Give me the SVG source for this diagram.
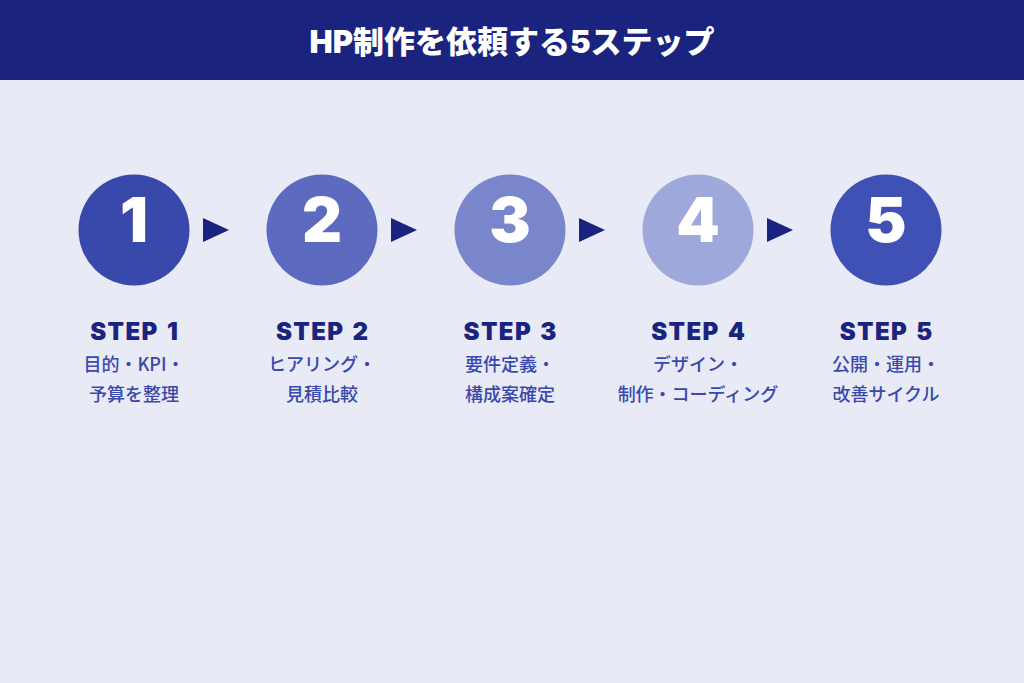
<svg xmlns="http://www.w3.org/2000/svg" width="1024" height="683" viewBox="0 0 1024 683">
<defs>
<style>
.num{font-family:Inter,"Liberation Sans",sans-serif;font-weight:900;font-size:62px;fill:#ffffff;text-anchor:middle}
.step{font-family:Inter,"Liberation Sans",sans-serif;font-weight:900;font-size:24px;letter-spacing:1.4px;word-spacing:2px;fill:#1a237e;text-anchor:middle}
.desc{font-family:"Noto Sans CJK JP",sans-serif;font-weight:500;font-size:18px;fill:#3949ab;text-anchor:middle}
.title{font-family:Inter,"Noto Sans CJK JP",sans-serif;font-weight:900;font-size:31px;fill:#ffffff;text-anchor:middle}
.arrow{fill:#1a237e}
</style>
</defs>
<rect width="1024" height="683" fill="#e8eaf6"/>
<g id="header">
<rect width="1024" height="80" fill="#1a237e"/>
<text class="title" x="512" y="53">HP制作を依頼する5ステップ</text>
</g>
<g id="connectors">
<polygon class="arrow" points="203,218 229,230 203,242"/>
<polygon class="arrow" points="391,218 417,230 391,242"/>
<polygon class="arrow" points="579,218 605,230 579,242"/>
<polygon class="arrow" points="767,218 793,230 767,242"/>
</g>
<g id="step1">
<circle cx="134" cy="230" r="55.5" fill="#3949ab"/>
<text class="num" x="134" y="242">1</text>
<text class="step" x="134.7" y="340">STEP 1</text>
<text class="desc" x="134" y="371">目的・KPI・</text>
<text class="desc" x="134" y="401">予算を整理</text>
</g>
<g id="step2">
<circle cx="322" cy="230" r="55.5" fill="#5c6bc0"/>
<text class="num" x="322" y="242">2</text>
<text class="step" x="322.7" y="340">STEP 2</text>
<text class="desc" x="322" y="371">ヒアリング・</text>
<text class="desc" x="322" y="401">見積比較</text>
</g>
<g id="step3">
<circle cx="510" cy="230" r="55.5" fill="#7986cb"/>
<text class="num" x="510" y="242">3</text>
<text class="step" x="510.7" y="340">STEP 3</text>
<text class="desc" x="510" y="371">要件定義・</text>
<text class="desc" x="510" y="401">構成案確定</text>
</g>
<g id="step4">
<circle cx="698" cy="230" r="55.5" fill="#9fa8da"/>
<text class="num" x="698" y="242">4</text>
<text class="step" x="698.7" y="340">STEP 4</text>
<text class="desc" x="698" y="371">デザイン・</text>
<text class="desc" x="698" y="401">制作・コーディング</text>
</g>
<g id="step5">
<circle cx="886" cy="230" r="55.5" fill="#3f51b5"/>
<text class="num" x="886" y="242">5</text>
<text class="step" x="886.7" y="340">STEP 5</text>
<text class="desc" x="886" y="371">公開・運用・</text>
<text class="desc" x="886" y="401">改善サイクル</text>
</g>
</svg>
